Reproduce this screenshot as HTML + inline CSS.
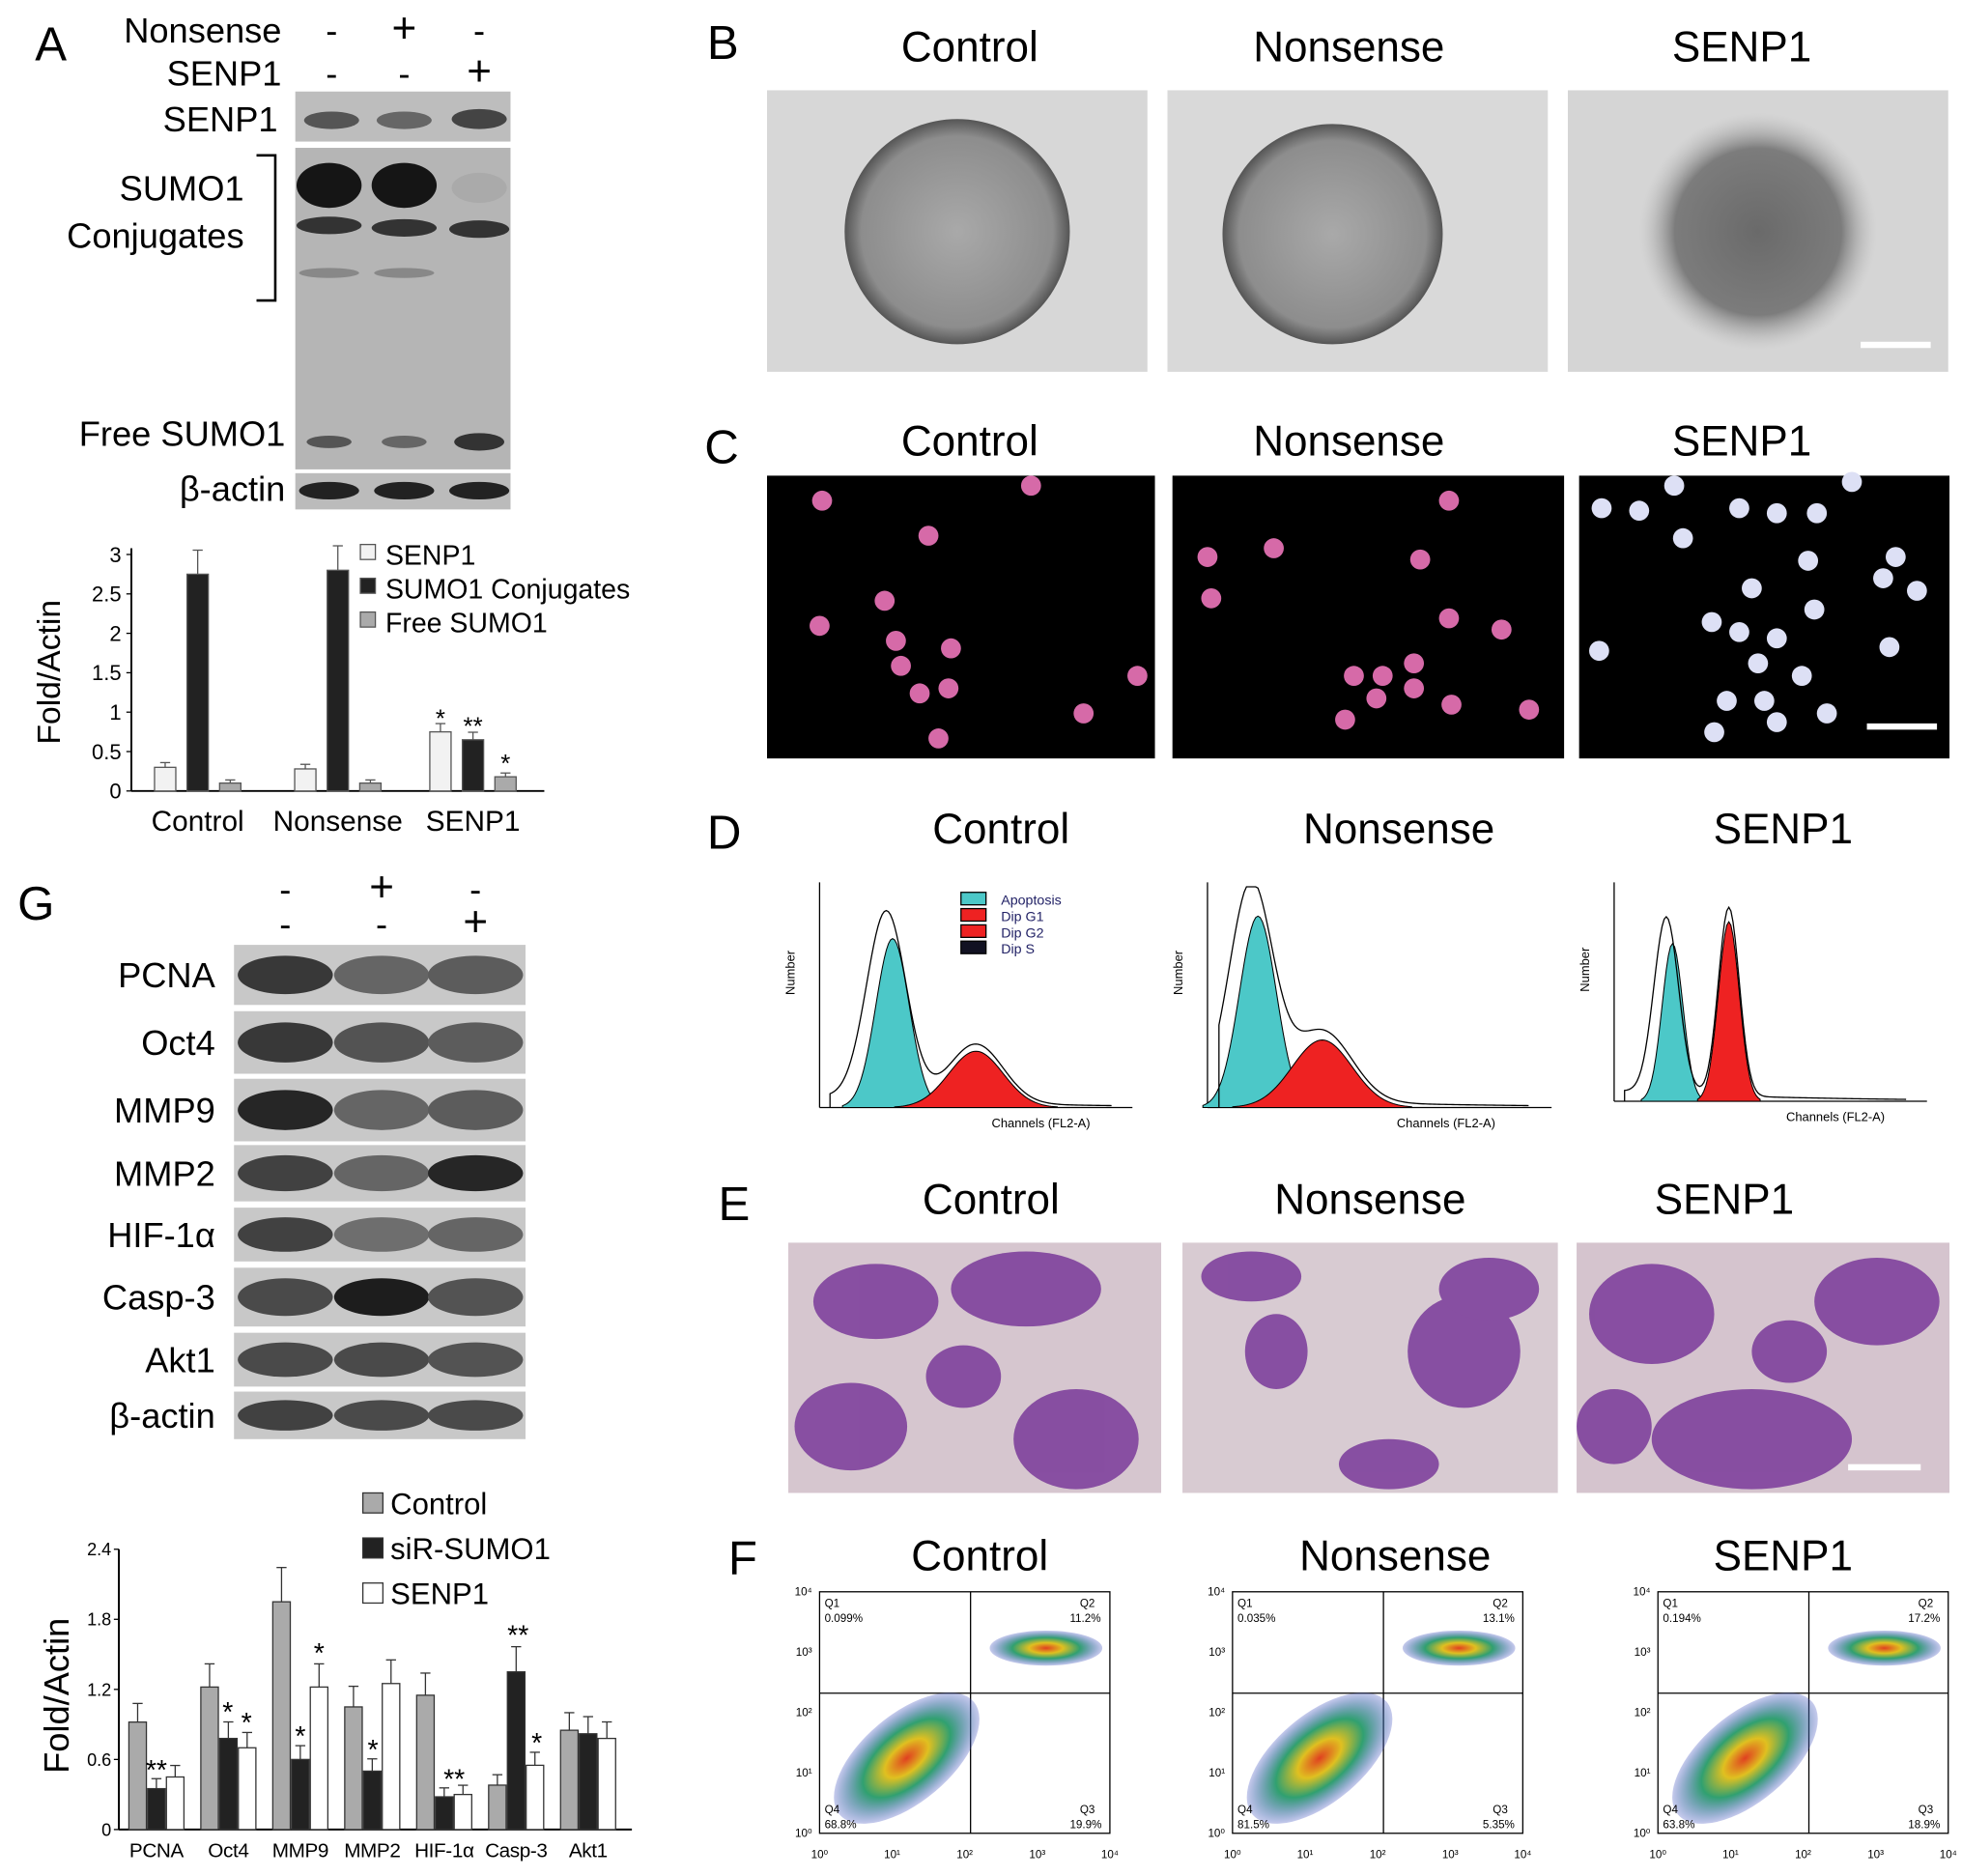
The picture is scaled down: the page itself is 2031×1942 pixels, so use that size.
<!DOCTYPE html>
<html><head><meta charset="utf-8"><style>
html,body{margin:0;padding:0;background:#fff}
svg{display:block}
text{font-family:"Liberation Sans",sans-serif}
</style></head><body>
<svg id="fig" width="2031" height="1942" viewBox="0 0 1568 1499" xmlns="http://www.w3.org/2000/svg">
<defs>
<radialGradient id="sph" cx="50%" cy="50%" r="50%"><stop offset="0" stop-color="#a9a9a9"/><stop offset="0.85" stop-color="#8d8d8d"/><stop offset="1" stop-color="#555"/></radialGradient>
<radialGradient id="sph2" cx="50%" cy="50%" r="50%"><stop offset="0" stop-color="#6a6a6a"/><stop offset="0.7" stop-color="#7c7c7c"/><stop offset="1" stop-color="#bbb" stop-opacity="0"/></radialGradient>
<radialGradient id="dens" cx="50%" cy="50%" r="50%"><stop offset="0" stop-color="#e04020"/><stop offset="0.3" stop-color="#e0c020"/><stop offset="0.6" stop-color="#30a070"/><stop offset="1" stop-color="#4050c0" stop-opacity="0.3"/></radialGradient>
</defs>

<!-- Panel A header -->
<g font-size="28">
<text x="28" y="48" font-size="38">A</text>
<text x="225" y="34" text-anchor="end">Nonsense</text>
<text x="225" y="68" text-anchor="end">SENP1</text>
<text x="265" y="34" text-anchor="middle">-</text><text x="323" y="34" text-anchor="middle" font-size="34">+</text><text x="383" y="34" text-anchor="middle">-</text>
<text x="265" y="68" text-anchor="middle">-</text><text x="323" y="68" text-anchor="middle">-</text><text x="383" y="68" text-anchor="middle" font-size="34">+</text>
<text x="222" y="105" text-anchor="end">SENP1</text>
<text x="195" y="160" text-anchor="end">SUMO1</text>
<text x="195" y="198" text-anchor="end">Conjugates</text>
<path d="M205,124 H220 V240 H205" fill="none" stroke="#000" stroke-width="2"/>
<text x="228" y="356" text-anchor="end">Free SUMO1</text>
<text x="228" y="400" text-anchor="end">β-actin</text>
<rect x="236" y="73" width="172" height="40" fill="#bdbdbd"/>
<ellipse cx="265" cy="96" rx="22" ry="7" fill="#555"/><ellipse cx="323" cy="96" rx="22" ry="7" fill="#666"/><ellipse cx="383" cy="95" rx="22" ry="8" fill="#444"/>
<rect x="236" y="118" width="172" height="257" fill="#b5b5b5"/>
<ellipse cx="263" cy="148" rx="26" ry="18" fill="#151515"/><ellipse cx="323" cy="148" rx="26" ry="18" fill="#151515"/><ellipse cx="383" cy="150" rx="22" ry="12" fill="#aaa"/>
<ellipse cx="263" cy="180" rx="26" ry="7" fill="#333"/><ellipse cx="323" cy="182" rx="26" ry="7" fill="#333"/><ellipse cx="383" cy="183" rx="24" ry="7" fill="#333"/>
<ellipse cx="263" cy="218" rx="24" ry="4" fill="#888"/><ellipse cx="323" cy="218" rx="24" ry="4" fill="#888"/>
<ellipse cx="263" cy="353" rx="18" ry="5" fill="#555"/><ellipse cx="323" cy="353" rx="18" ry="5" fill="#666"/><ellipse cx="383" cy="353" rx="20" ry="7" fill="#333"/>
<rect x="236" y="378" width="172" height="29" fill="#bbb"/>
<ellipse cx="263" cy="392" rx="24" ry="7" fill="#222"/><ellipse cx="323" cy="392" rx="24" ry="7" fill="#222"/><ellipse cx="383" cy="392" rx="24" ry="7" fill="#222"/>
</g>
<g id="chartA"></g>

<!-- Panel B -->
<g font-size="34">
<text x="565" y="47" font-size="38">B</text>
<text x="775" y="49" text-anchor="middle">Control</text><text x="1078" y="49" text-anchor="middle">Nonsense</text><text x="1392" y="49" text-anchor="middle">SENP1</text>
<rect x="613" y="72" width="304" height="225" fill="#d7d7d7"/><circle cx="765" cy="185" r="90" fill="url(#sph)"/>
<rect x="933" y="72" width="304" height="225" fill="#d9d9d9"/><circle cx="1065" cy="187" r="88" fill="url(#sph)"/>
<rect x="1253" y="72" width="304" height="225" fill="#d5d5d5"/><circle cx="1405" cy="185" r="95" fill="url(#sph2)"/>
<rect x="1487" y="273" width="56" height="5" fill="#fff"/>
</g>
<!-- Panel C -->
<g font-size="34">
<text x="563" y="370" font-size="38">C</text>
<text x="775" y="364" text-anchor="middle">Control</text><text x="1078" y="364" text-anchor="middle">Nonsense</text><text x="1392" y="364" text-anchor="middle">SENP1</text>
<rect x="613" y="380" width="310" height="226" fill="#000"/>
<rect x="937" y="380" width="313" height="226" fill="#000"/>
<rect x="1262" y="380" width="296" height="226" fill="#000"/>
<g fill="#d66aa8">
<circle cx="657" cy="400" r="8"/><circle cx="824" cy="388" r="8"/><circle cx="742" cy="428" r="8"/><circle cx="707" cy="480" r="8"/><circle cx="655" cy="500" r="8"/><circle cx="716" cy="512" r="8"/><circle cx="760" cy="518" r="8"/><circle cx="720" cy="532" r="8"/><circle cx="735" cy="554" r="8"/><circle cx="758" cy="550" r="8"/><circle cx="866" cy="570" r="8"/><circle cx="909" cy="540" r="8"/><circle cx="750" cy="590" r="8"/>
<circle cx="965" cy="445" r="8"/><circle cx="1018" cy="438" r="8"/><circle cx="1158" cy="400" r="8"/><circle cx="968" cy="478" r="8"/><circle cx="1135" cy="447" r="8"/><circle cx="1158" cy="494" r="8"/><circle cx="1200" cy="503" r="8"/><circle cx="1082" cy="540" r="8"/><circle cx="1105" cy="540" r="8"/><circle cx="1130" cy="550" r="8"/><circle cx="1100" cy="558" r="8"/><circle cx="1130" cy="530" r="8"/><circle cx="1075" cy="575" r="8"/><circle cx="1222" cy="567" r="8"/><circle cx="1160" cy="563" r="8"/>
</g>
<g fill="#dde0f5">
<circle cx="1280" cy="406" r="8"/><circle cx="1310" cy="408" r="8"/><circle cx="1338" cy="388" r="8"/><circle cx="1390" cy="406" r="8"/><circle cx="1420" cy="410" r="8"/><circle cx="1452" cy="410" r="8"/><circle cx="1480" cy="385" r="8"/><circle cx="1345" cy="430" r="8"/><circle cx="1445" cy="448" r="8"/><circle cx="1515" cy="445" r="8"/><circle cx="1532" cy="472" r="8"/><circle cx="1505" cy="462" r="8"/><circle cx="1400" cy="470" r="8"/><circle cx="1368" cy="497" r="8"/><circle cx="1390" cy="505" r="8"/><circle cx="1450" cy="487" r="8"/><circle cx="1420" cy="510" r="8"/><circle cx="1510" cy="517" r="8"/><circle cx="1405" cy="530" r="8"/><circle cx="1380" cy="560" r="8"/><circle cx="1410" cy="560" r="8"/><circle cx="1440" cy="540" r="8"/><circle cx="1370" cy="585" r="8"/><circle cx="1420" cy="577" r="8"/><circle cx="1460" cy="570" r="8"/><circle cx="1278" cy="520" r="8"/>
</g>
<rect x="1492" y="578" width="56" height="5" fill="#fff"/>
</g>
<!-- Panel D -->
<g id="panelD" font-size="34">
<text x="565" y="678" font-size="38">D</text>
<text x="800" y="674" text-anchor="middle">Control</text><text x="1118" y="674" text-anchor="middle">Nonsense</text><text x="1425" y="674" text-anchor="middle">SENP1</text>
<g font-size="11" fill="#226">
<rect x="768" y="713" width="20" height="10" fill="#4cc8c8" stroke="#000"/><text x="800" y="723">Apoptosis</text>
<rect x="768" y="726" width="20" height="10" fill="#e22" stroke="#000"/><text x="800" y="736">Dip G1</text>
<rect x="768" y="739" width="20" height="10" fill="#e22" stroke="#000"/><text x="800" y="749">Dip G2</text>
<rect x="768" y="752" width="20" height="10" fill="#112" stroke="#000"/><text x="800" y="762">Dip S</text>
</g>
</g>
<!-- Panel E -->
<g font-size="34">
<text x="574" y="975" font-size="38">E</text>
<text x="792" y="970" text-anchor="middle">Control</text><text x="1095" y="970" text-anchor="middle">Nonsense</text><text x="1378" y="970" text-anchor="middle">SENP1</text>
<rect x="630" y="993" width="298" height="200" fill="#d6c6cf"/>
<rect x="945" y="993" width="300" height="200" fill="#d8cbd2"/>
<rect x="1260" y="993" width="298" height="200" fill="#d5c4ce"/>
<g fill="#7a3a9a" opacity="0.85">
<ellipse cx="700" cy="1040" rx="50" ry="30"/><ellipse cx="820" cy="1030" rx="60" ry="30"/><ellipse cx="680" cy="1140" rx="45" ry="35"/><ellipse cx="860" cy="1150" rx="50" ry="40"/><ellipse cx="770" cy="1100" rx="30" ry="25"/>
<ellipse cx="1000" cy="1020" rx="40" ry="20"/><ellipse cx="1170" cy="1080" rx="45" ry="45"/><ellipse cx="1020" cy="1080" rx="25" ry="30"/><ellipse cx="1110" cy="1170" rx="40" ry="20"/><ellipse cx="1190" cy="1030" rx="40" ry="25"/>
<ellipse cx="1320" cy="1050" rx="50" ry="40"/><ellipse cx="1500" cy="1040" rx="50" ry="35"/><ellipse cx="1400" cy="1150" rx="80" ry="40"/><ellipse cx="1290" cy="1140" rx="30" ry="30"/><ellipse cx="1430" cy="1080" rx="30" ry="25"/>
</g>
<rect x="1477" y="1170" width="58" height="5" fill="#fff"/>
</g>
<!-- Panel F -->
<g id="panelF" font-size="34">
<text x="582" y="1258" font-size="38">F</text>
<text x="783" y="1255" text-anchor="middle">Control</text><text x="1115" y="1255" text-anchor="middle">Nonsense</text><text x="1425" y="1255" text-anchor="middle">SENP1</text>
</g>

<!-- Panel G -->
<g font-size="28">
<text x="14" y="735" font-size="38">G</text>
<text x="228" y="720" text-anchor="middle">-</text><text x="305" y="720" text-anchor="middle" font-size="34">+</text><text x="380" y="720" text-anchor="middle">-</text>
<text x="228" y="748" text-anchor="middle">-</text><text x="305" y="748" text-anchor="middle">-</text><text x="380" y="748" text-anchor="middle" font-size="34">+</text>
<g id="gblot"></g>
</g>
<g id="chartG"></g>
</svg>
<script>
// ---- Panel A chart data ----
const aCategories = ["Control","Nonsense","SENP1"];
const aSenp1 = [0.3,0.28,0.75];
const aConj = [2.75,2.8,0.65];
const aFree = [0.1,0.1,0.18];
const aTicks = ["0","0.5","1","1.5","2","2.5","3"];
// ---- Panel G chart data ----
const gCategories = ["PCNA","Oct4","MMP9","MMP2","HIF-1α","Casp-3","Akt1"];
const gControl = [0.92,1.22,1.95,1.05,1.15,0.38,0.85];
const gSir = [0.35,0.78,0.6,0.5,0.28,1.35,0.82];
const gSenp1 = [0.45,0.7,1.22,1.25,0.3,0.55,0.78];
const gTicks = ["0","0.6","1.2","1.8","2.4"];
const gBlotRows = ["PCNA","Oct4","MMP9","MMP2","HIF-1α","Casp-3","Akt1","β-actin"];
// ---- Histogram data (D) ----
const histCenters = [[35,75],[22,50],[28,55]];
const histHeights = [[0.75,0.25],[0.85,0.3],[0.72,0.82]];

const NS="http://www.w3.org/2000/svg";
function mk(tag,attrs,parent,txt){const e=document.createElementNS(NS,tag);for(const k in attrs)e.setAttribute(k,attrs[k]);if(txt!==undefined)e.textContent=txt;parent.appendChild(e);return e;}

// Panel A bar chart
(function(){
 const g=document.getElementById('chartA');
 const x0=105,x1=435,yb=632,yt=443,max=3;
 const y=v=>yb-(v/max)*(yb-yt);
 mk('line',{x1:x0,y1:yt-5,x2:x0,y2:yb,stroke:'#000','stroke-width':1.5},g);
 mk('line',{x1:x0,y1:yb,x2:x1,y2:yb,stroke:'#000','stroke-width':1.5},g);
 aTicks.forEach((t,i)=>{const v=i*0.5;const tk=mk('text',{x:x0-8,y:y(v)+6,'text-anchor':'end','font-size':17},g,t);
  
  
  mk('line',{x1:x0-4,y1:y(v),x2:x0,y2:y(v),stroke:'#000'},g);});
 const yl=mk('text',{x:48,y:537,'font-size':26,'text-anchor':'middle',transform:'rotate(-90 48 537)'},g,'Fold/Actin');
 
 
 const centers=[158,270,378],bw=17;
 const series=[[aSenp1,'#f2f2f2'],[aConj,'#222'],[aFree,'#aaa']];
 aCategories.forEach((c,i)=>{
  series.forEach((s,j)=>{const v=s[0][i];const bx=centers[i]+(j-1)*26-bw/2;
   const r=mk('rect',{x:bx,y:y(v),width:bw,height:yb-y(v),fill:s[1],stroke:'#555'},g);
   
   
   mk('line',{x1:bx+bw/2,y1:y(v),x2:bx+bw/2,y2:y(v*1.1+0.03),stroke:'#555'},g);
   mk('line',{x1:bx+bw/2-4,y1:y(v*1.1+0.03),x2:bx+bw/2+4,y2:y(v*1.1+0.03),stroke:'#555'},g);});
  const l=mk('text',{x:centers[i],y:yb+32,'text-anchor':'middle','font-size':23},g,c);
  
  
 });
 mk('text',{x:352,y:y(aSenp1[2])-4,'text-anchor':'middle','font-size':20},g,'*');
 mk('text',{x:378,y:y(aConj[2])-4,'text-anchor':'middle','font-size':20},g,'**');
 mk('text',{x:404,y:y(aFree[2])-4,'text-anchor':'middle','font-size':20},g,'*');
 const leg=[['SENP1','#f2f2f2'],['SUMO1 Conjugates','#222'],['Free SUMO1','#aaa']];
 leg.forEach((l,i)=>{const ly=443+i*27;mk('rect',{x:288,y:ly-8,width:12,height:12,fill:l[1],stroke:'#555'},g);
  const t=mk('text',{x:308,y:ly+8,'font-size':22},g,l[0]);
  
  });
})();

// Panel G blot
(function(){
 const g=document.getElementById('gblot');
 const tops=[755,808,862,915,965,1013,1065,1112],hs=[48,50,50,45,43,47,43,38];
 const inten=[[0.2,0.45,0.4],[0.2,0.35,0.4],[0.1,0.45,0.4],[0.25,0.45,0.1],[0.25,0.5,0.45],[0.3,0.05,0.35],[0.3,0.3,0.35],[0.25,0.3,0.3]];
 gBlotRows.forEach((n,i)=>{mk('rect',{x:187,y:tops[i],width:233,height:hs[i],fill:'#c8c8c8'},g);
  [228,305,380].forEach((cx,j)=>{const v=Math.round(inten[i][j]*180+20);mk('ellipse',{cx:cx,cy:tops[i]+hs[i]/2,rx:38,ry:hs[i]*0.32,fill:`rgb(${v},${v},${v})`},g);});
  const t=mk('text',{x:172,y:tops[i]+hs[i]/2+10,'text-anchor':'end','font-size':28},g,n);
  
  });
})();

// Panel G bar chart
(function(){
 const g=document.getElementById('chartG');
 const x0=95,x1=505,yb=1462,yt=1238,max=2.4;
 const y=v=>yb-(v/max)*(yb-yt);
 mk('line',{x1:x0,y1:yt,x2:x0,y2:yb,stroke:'#000','stroke-width':1.5},g);
 mk('line',{x1:x0,y1:yb,x2:x1,y2:yb,stroke:'#000','stroke-width':1.5},g);
 gTicks.forEach((t,i)=>{const v=i*0.6;const tk=mk('text',{x:x0-6,y:y(v)+5,'text-anchor':'end','font-size':14},g,t);
  
  
  mk('line',{x1:x0-4,y1:y(v),x2:x0,y2:y(v),stroke:'#000'},g);});
 const yl=mk('text',{x:55,y:1355,'font-size':28,'text-anchor':'middle',transform:'rotate(-90 55 1355)'},g,'Fold/Actin');
 
 
 const bw=14;
 const series=[[gControl,'#aaa'],[gSir,'#222'],[gSenp1,'#fff']];
 gCategories.forEach((c,i)=>{const cx=125+i*57.5;
  series.forEach((s,j)=>{const v=s[0][i];const bx=cx+(j-1)*15-bw/2;
   const r=mk('rect',{x:bx,y:y(v),width:bw,height:yb-y(v),fill:s[1],stroke:'#333'},g);
   
   
   const e=v*0.13+0.04;
   mk('line',{x1:bx+bw/2,y1:y(v),x2:bx+bw/2,y2:y(v+e),stroke:'#333'},g);
   mk('line',{x1:bx+bw/2-4,y1:y(v+e),x2:bx+bw/2+4,y2:y(v+e),stroke:'#333'},g);});
  const l=mk('text',{x:cx,y:yb+22,'text-anchor':'middle','font-size':16,'letter-spacing':'-0.3'},g,c);
  
  
 });
 const stars=[[125,gSir[0],'**'],[182,gSir[1],'*'],[197,gSenp1[1],'*'],[240,gSir[2],'*'],[255,gSenp1[2],'*'],[298,gSir[3],'*'],[363,gSir[4],'**'],[414,gSir[5],'**'],[429,gSenp1[5],'*']];
 stars.forEach(s=>mk('text',{x:s[0],y:y(s[1]*1.15+0.05)+2,'text-anchor':'middle','font-size':22},g,s[2]));
 const leg=[['Control','#aaa'],['siR-SUMO1','#222'],['SENP1','#fff']];
 leg.forEach((l,i)=>{const ly=1202+i*36;mk('rect',{x:290,y:ly-9,width:16,height:16,fill:l[1],stroke:'#333'},g);
  const t=mk('text',{x:312,y:ly+8,'font-size':24},g,l[0]);
  
  });
})();

// Panel D histograms
(function(){
 const g=document.getElementById('panelD');
 const boxes=[[655,905,705,885],[965,1240,705,885],[1290,1540,705,880]];
 boxes.forEach((b,k)=>{const [x0,x1,yt,yb]=b;const W=x1-x0,H=yb-yt;
  mk('line',{x1:x0,y1:yt,x2:x0,y2:yb,stroke:'#000'},g);mk('line',{x1:x0,y1:yb,x2:x1,y2:yb,stroke:'#000'},g);
  const sx=c=>x0+c/150*W;
  const [c1,c2]=histCenters[k],[h1,h2]=histHeights[k];
  const w1=k==2?5:8,w2=k==2?5:13;
  let p1=`M${sx(c1-3*w1)},${yb}`,p2=`M${sx(c2-3*w2)},${yb}`,pl=`M${sx(5)},${yb}`;
  for(let c=c1-3*w1;c<=c1+3*w1;c+=1)p1+=` L${sx(c)},${yb-H*h1*Math.exp(-((c-c1)**2)/(2*w1*w1))}`;
  for(let c=c2-3*w2;c<=c2+3*w2;c+=1)p2+=` L${sx(c)},${yb-H*h2*Math.exp(-((c-c2)**2)/(2*w2*w2))}`;
  for(let c=5;c<=140;c+=1){const v=1.12*h1*Math.exp(-((c-c1+3)**2)/(2*w1*w1*1.4))+1.05*h2*Math.exp(-((c-c2)**2)/(2*w2*w2))+0.05*Math.exp(-c/80);pl+=` L${sx(c)},${yb-H*Math.min(v,0.98)}`;}
  mk('path',{d:p1+` L${sx(c1+3*w1)},${yb} Z`,fill:'#4cc8c8',stroke:'#000','stroke-width':0.8},g);
  mk('path',{d:p2+` L${sx(c2+3*w2)},${yb} Z`,fill:'#e22',stroke:'#000','stroke-width':0.8},g);
  mk('path',{d:pl,fill:'none',stroke:'#000','stroke-width':1},g);
  mk('text',{x:x0+W*0.55,y:yb+16,'font-size':10},g,'Channels (FL2-A)');
  mk('text',{x:x0-20,y:yt+H/2,'font-size':10,transform:`rotate(-90 ${x0-20} ${yt+H/2})`},g,'Number');
 });
})();

// Panel F flow plots
(function(){
 const g=document.getElementById('panelF');
 const xs=[655,985,1325],W=232,yt=1272,yb=1465;
 const q=[["0.099%","11.2%","68.8%","19.9%"],["0.035%","13.1%","81.5%","5.35%"],["0.194%","17.2%","63.8%","18.9%"]];
 xs.forEach((x0,k)=>{
  mk('rect',{x:x0,y:yt,width:W,height:yb-yt,fill:'#fff',stroke:'#000'},g);
  mk('line',{x1:x0+W*0.52,y1:yt,x2:x0+W*0.52,y2:yb,stroke:'#000'},g);
  mk('line',{x1:x0,y1:yt+(yb-yt)*0.42,x2:x0+W,y2:yt+(yb-yt)*0.42,stroke:'#000'},g);
  mk('ellipse',{cx:x0+W*0.3,cy:yb-60,rx:70,ry:35,fill:'url(#dens)',transform:`rotate(-40 ${x0+W*0.3} ${yb-60})`},g);
  mk('ellipse',{cx:x0+W*0.78,cy:yt+45,rx:45,ry:14,fill:'url(#dens)'},g);
  mk('text',{x:x0+4,y:yt+12,'font-size':9},g,'Q1');mk('text',{x:x0+4,y:yt+24,'font-size':9},g,q[k][0]);
  mk('text',{x:x0+W-24,y:yt+12,'font-size':9},g,'Q2');mk('text',{x:x0+W-32,y:yt+24,'font-size':9},g,q[k][1]);
  mk('text',{x:x0+4,y:yb-16,'font-size':9},g,'Q4');mk('text',{x:x0+4,y:yb-4,'font-size':9},g,q[k][2]);
  mk('text',{x:x0+W-24,y:yb-16,'font-size':9},g,'Q3');mk('text',{x:x0+W-32,y:yb-4,'font-size':9},g,q[k][3]);
  for(let i=0;i<=4;i++){mk('text',{x:x0+i*W/4,y:yb+20,'font-size':9,'text-anchor':'middle'},g,'10'+['⁰','¹','²','³','⁴'][i]);
   mk('text',{x:x0-6,y:yb-i*(yb-yt)/4+3,'font-size':9,'text-anchor':'end'},g,'10'+['⁰','¹','²','³','⁴'][i]);}
 });
})();
</script>
</body></html>
